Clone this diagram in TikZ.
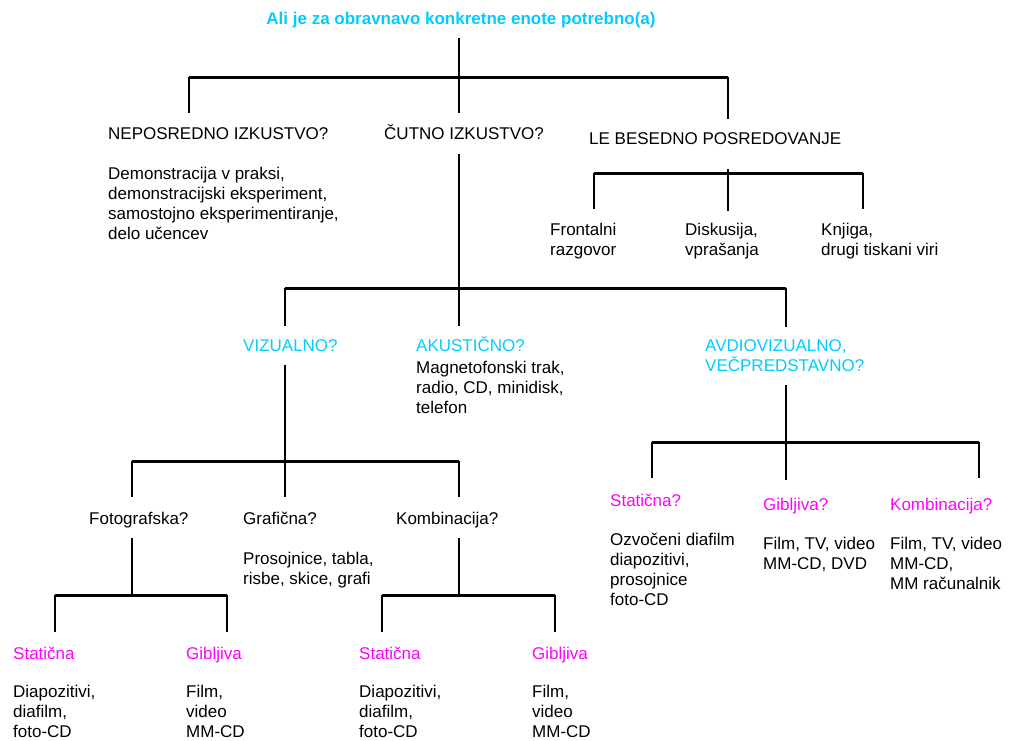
\documentclass[tikz,border=0pt]{standalone}
\usepackage{fontspec}
\setmainfont{Liberation Sans}
\definecolor{modra}{RGB}{0,204,255}
\definecolor{roza}{RGB}{255,0,255}

\begin{document}
\begin{tikzpicture}[x=1pt,y=-1pt,
  every node/.style={inner sep=0pt,anchor=base west,align=left,
    font=\fontsize{17}{20}\selectfont},
  vprasanje/.style={text=modra},
  vrsta/.style={text=roza},
  steblo/.style={line width=2pt},
  greda/.style={line width=3pt}]
\useasboundingbox (0,0) rectangle (1010,740);

% naslov in prva raven (vec vrstic: base je zadnja vrstica)
\node (naslov) at (461,24)[anchor=base,vprasanje,font=\fontsize{17}{20}\selectfont\bfseries]
  {Ali je za obravnavo konkretne enote potrebno(a)};
\node (neposredno) at (108,139){NEPOSREDNO IZKUSTVO?};
\node (cutno) at (384,139){ČUTNO IZKUSTVO?};
\node (besedno) at (589,144){LE BESEDNO POSREDOVANJE};
\node (demo) at (108,239){Demonstracija v praksi,\\demonstracijski eksperiment,\\samostojno eksperimentiranje,\\delo učencev};

\node (frontalni) at (550,255){Frontalni\\razgovor};
\node (diskusija) at (685,255){Diskusija,\\vprašanja};
\node (knjiga) at (821,255){Knjiga,\\drugi tiskani viri};

% cutno izkustvo
\node (vizualno) at (243,351)[vprasanje]{VIZUALNO?};
\node (akusticno) at (416,351)[vprasanje]{AKUSTIČNO?};
\node (magneto) at (416,413){Magnetofonski trak,\\radio, CD, minidisk,\\telefon};
\node (avdio) at (705,371)[vprasanje]{AVDIOVIZUALNO,\\VEČPREDSTAVNO?};

% vizualno
\node (foto) at (89,524){Fotografska?};
\node (graficna) at (243,524){Grafična?};
\node (kombinacija) at (396,524){Kombinacija?};
\node (prosojnice) at (243,584){Prosojnice, tabla,\\risbe, skice, grafi};

\node (staticnaA) at (13,659)[vrsta]{Statična};
\node (gibljivaA) at (186,659)[vrsta]{Gibljiva};
\node (staticnaB) at (359,659)[vrsta]{Statična};
\node (gibljivaB) at (532,659)[vrsta]{Gibljiva};
\node (diapoA) at (13,737){Diapozitivi,\\diafilm,\\foto-CD};
\node (filmA) at (186,737){Film,\\video\\MM-CD};
\node (diapoB) at (359,737){Diapozitivi,\\diafilm,\\foto-CD};
\node (filmB) at (532,737){Film,\\video\\MM-CD};

% avdiovizualno
\node (avstaticna) at (610,506)[vrsta]{Statična?};
\node (avgibljiva) at (763,510)[vrsta]{Gibljiva?};
\node (avkombinacija) at (890,510)[vrsta]{Kombinacija?};
\node (ozvoceni) at (610,605){Ozvočeni diafilm\\diapozitivi,\\prosojnice\\foto-CD};
\node (avfilm) at (763,569){Film, TV, video\\MM-CD, DVD};
\node (avracunalnik) at (890,589){Film, TV, video\\MM-CD,\\MM računalnik};

% veje
\coordinate (k0) at (459,38);  \coordinate (k1) at (459,113);
\coordinate (kl) at (189,113); \coordinate (kr) at (728,119);
\draw[steblo] (k0)--(k1);
\draw[steblo] (kl)--++(0,-36);
\draw[steblo] (kr)--++(0,-42);
\draw[greda] (kl|-0,77)--(kr|-0,77);

\coordinate (c0) at (459,154); \coordinate (c1) at (459,326);
\coordinate (cl) at (285,326); \coordinate (cr) at (786,327);
\draw[steblo] (c0)--(c1);
\draw[steblo] (cl)--++(0,-38);
\draw[steblo] (cr)--++(0,-39);
\draw[greda] (cl|-0,288)--(cr|-0,288);

\coordinate (b0) at (728,169); \coordinate (b1) at (728,211);
\coordinate (bl) at (594,209); \coordinate (br) at (863,209);
\draw[steblo] (b0)--(b1);
\draw[steblo] (bl)--++(0,-36);
\draw[steblo] (br)--++(0,-36);
\draw[greda] (bl|-0,173)--(br|-0,173);

\coordinate (v0) at (285,365); \coordinate (v1) at (285,497);
\coordinate (vl) at (132,497); \coordinate (vr) at (459,497);
\draw[steblo] (v0)--(v1);
\draw[steblo] (vl)--++(0,-36);
\draw[steblo] (vr)--++(0,-36);
\draw[greda] (vl|-0,461)--(vr|-0,461);

\coordinate (a0) at (786,385); \coordinate (a1) at (786,480);
\coordinate (al) at (652,478); \coordinate (ar) at (979,478);
\draw[steblo] (a0)--(a1);
\draw[steblo] (al)--++(0,-36);
\draw[steblo] (ar)--++(0,-36);
\draw[greda] (al|-0,442)--(ar|-0,442);

\coordinate (f0) at (132,538); \coordinate (f1) at (132,595);
\coordinate (fl) at (55,632);  \coordinate (fr) at (227,632);
\draw[steblo] (f0)--(f1);
\draw[steblo] (fl)--++(0,-37);
\draw[steblo] (fr)--++(0,-37);
\draw[greda] (fl|-0,595)--(fr|-0,595);

\coordinate (m0) at (459,538); \coordinate (m1) at (459,595);
\coordinate (ml) at (382,632); \coordinate (mr) at (555,632);
\draw[steblo] (m0)--(m1);
\draw[steblo] (ml)--++(0,-37);
\draw[steblo] (mr)--++(0,-37);
\draw[greda] (ml|-0,595)--(mr|-0,595);

\end{tikzpicture}
\end{document}
